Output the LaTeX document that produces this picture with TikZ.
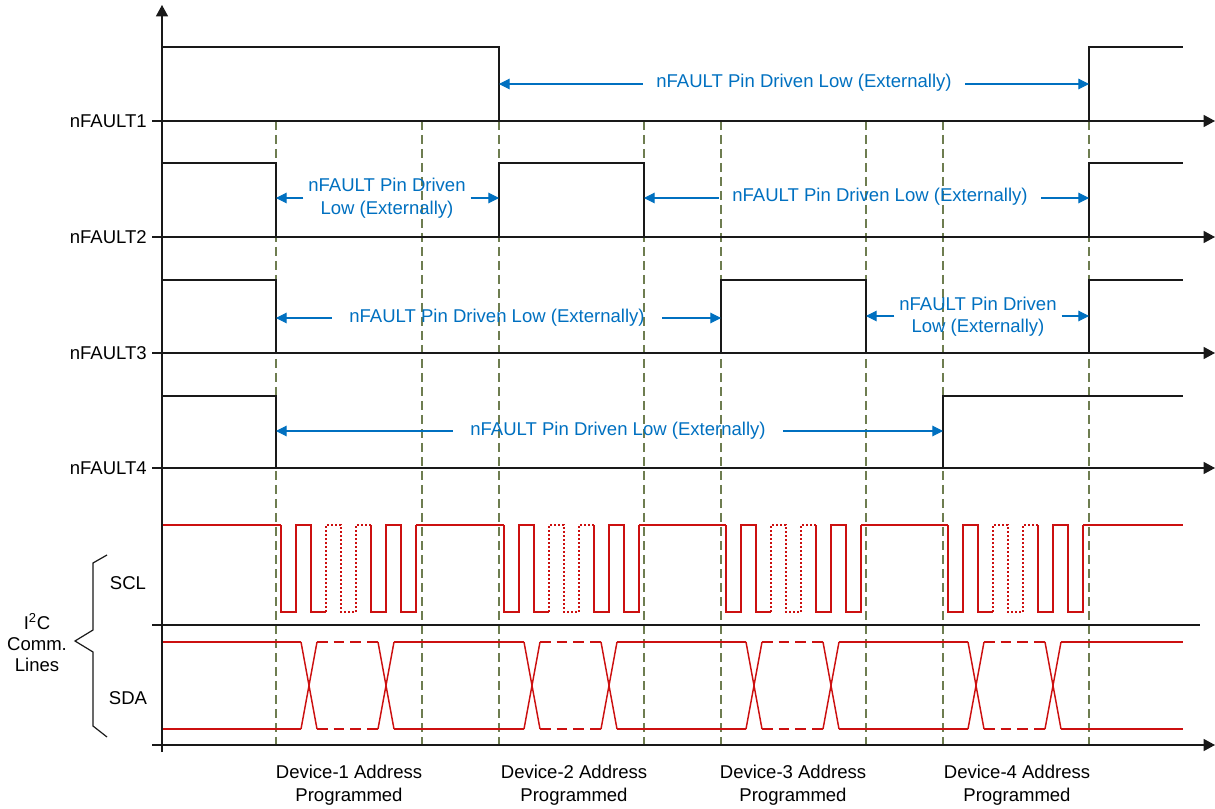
\documentclass[tikz,border=0pt]{standalone}
\usepackage{fontspec}
\setmainfont{Liberation Sans}
\usetikzlibrary{arrows.meta}
\definecolor{tiblue}{RGB}{0,112,192}
\definecolor{sigred}{RGB}{204,16,16}
\definecolor{guide}{RGB}{110,125,80}
\definecolor{axisc}{RGB}{25,25,25}
\begin{document}
\begin{tikzpicture}[x=0.75pt,y=-0.75pt,
  font=\fontsize{13.9}{16.9}\selectfont,
  axis/.style={line width=1pt, draw=axisc},
  axisarrow/.style={axis, -{Triangle[length=8.5pt,width=9pt]}},
  wave/.style={line width=1pt, draw=axisc, line join=miter},
  guideline/.style={draw=guide, line width=1pt, dash pattern=on 6.5pt off 4pt},
  sig/.style={draw=sigred, line width=1.1pt, line join=miter},
  sigdot/.style={sig, dash pattern=on 1.5pt off 1.5pt},
  sigdash/.style={sig, dash pattern=on 8pt off 4.5pt},
  note/.style={text=tiblue, inner sep=0pt, align=center},
  noteline/.style={draw=tiblue, line width=0.8pt, -{Triangle[length=8pt,width=8pt]}},
  lbl/.style={inner sep=0pt, anchor=east},
  plain/.style={inner sep=0pt, align=center},
  brace/.style={draw=axisc, line width=0.9pt, line join=miter},
]
\useasboundingbox (0,0) rectangle (1215,809);

% guide lines
\foreach \x in {276,422,499,644,721,866,943,1089}
  \draw[guideline] (\x,121) -- (\x,745);

% axes
\draw[axisarrow] (162,752) -- (162,5);
\foreach \y in {121,237,353,468,745}
  \draw[axisarrow] (152,\y) -- (1215,\y);
\draw[axis] (152,625) -- (1200,625);

% nFAULT waveforms
\draw[wave] (162,47) -- (499,47) -- (499,121);
\draw[wave] (1089,121) -- (1089,47) -- (1183,47);
\draw[wave] (162,163) -- (276,163) -- (276,237);
\draw[wave] (499,237) -- (499,163) -- (644,163) -- (644,237);
\draw[wave] (1089,237) -- (1089,163) -- (1183,163);
\draw[wave] (162,280) -- (276,280) -- (276,353);
\draw[wave] (721,353) -- (721,280) -- (866,280) -- (866,353);
\draw[wave] (1089,353) -- (1089,280) -- (1183,280);
\draw[wave] (162,396) -- (276,396) -- (276,468);
\draw[wave] (943,468) -- (943,396) -- (1183,396);

% SCL
\draw[sig] (163,525) -- (281,525);
\draw[sig] (416,525) -- (504,525);
\draw[sig] (639,525) -- (726,525);
\draw[sig] (861,525) -- (948,525);
\draw[sig] (1083,525) -- (1183,525);
\foreach \d in {276,499,721,943} {
  \draw[sig] ({\d+5},525) -- ({\d+5},612) -- ({\d+20},612) -- ({\d+20},525)
     -- ({\d+35},525) -- ({\d+35},612) -- ({\d+50},612);
  \draw[sigdot] ({\d+50},612) -- ({\d+50},525) -- ({\d+65},525) -- ({\d+65},612)
     -- ({\d+80},612) -- ({\d+80},525) -- ({\d+95},525);
  \draw[sig] ({\d+95},525) -- ({\d+95},612) -- ({\d+110},612) -- ({\d+110},525)
     -- ({\d+125},525) -- ({\d+125},612) -- ({\d+140},612) -- ({\d+140},525);
}

% SDA
\foreach \a/\b in {163/301,394/524,617/746,839/968,1061/1183} {
  \draw[sig] (\a,642) -- (\b,642);
  \draw[sig] (\a,729) -- (\b,729);
}
\foreach \d in {276,499,721,943} {
  \draw[sig] ({\d+25},642) -- ({\d+41},729);
  \draw[sig] ({\d+25},729) -- ({\d+41},642);
  \draw[sigdash] ({\d+41},642) -- ({\d+102},642);
  \draw[sigdash] ({\d+41},729) -- ({\d+102},729);
  \draw[sig] ({\d+102},642) -- ({\d+118},729);
  \draw[sig] ({\d+102},729) -- ({\d+118},642);
}

% brace
\draw[brace] (107,555) -- (93,563) -- (93,630) -- (75,641) -- (93,652) -- (93,726) -- (107,737);

% labels
\node[lbl] (lf1) at (147,121) {nFAULT1};
\node[lbl] (lf2) at (147,237) {nFAULT2};
\node[lbl] (lf3) at (147,353) {nFAULT3};
\node[lbl] (lf4) at (147,468) {nFAULT4};
\node[plain] (lscl) at (128,583) {SCL};
\node[plain] (lsda) at (128,698) {SDA};
\node[plain, font=\fontsize{13.9}{15.8}\selectfont] (li2c) at (37,643) {I\textsuperscript{2}C\\Comm.\\Lines};
\node[plain] (dev1) at (349,785) {Device-1 Address\\Programmed};
\node[plain] (dev2) at (574,785) {Device-2 Address\\Programmed};
\node[plain] (dev3) at (793,785) {Device-3 Address\\Programmed};
\node[plain] (dev4) at (1017,785) {Device-4 Address\\Programmed};

% notes with arrows
\coordinate (a1l) at (499,84);  \coordinate (a1r) at (1089,84);
\coordinate (a2l) at (276,198); \coordinate (a2r) at (499,198);
\coordinate (b2l) at (644,198); \coordinate (b2r) at (1089,198);
\coordinate (a3l) at (276,318); \coordinate (a3r) at (721,318);
\coordinate (b3l) at (866,316); \coordinate (b3r) at (1089,316);
\coordinate (a4l) at (276,431); \coordinate (a4r) at (943,431);

\node[note] (n1) at (804,83) {nFAULT Pin Driven Low (Externally)};
\draw[noteline] ([xshift=-10pt]n1.west|-a1l) -- (a1l);
\draw[noteline] ([xshift=10pt]n1.east|-a1r) -- (a1r);

\node[note] (n2a) at (387,198) {nFAULT Pin Driven\\Low (Externally)};
\draw[noteline] ([xshift=-3.5pt]n2a.west|-a2l) -- (a2l);
\draw[noteline] ([xshift=3.5pt]n2a.east|-a2r) -- (a2r);

\node[note] (n2b) at (880,197) {nFAULT Pin Driven Low (Externally)};
\draw[noteline] ([xshift=-10pt]n2b.west|-b2l) -- (b2l);
\draw[noteline] ([xshift=10pt]n2b.east|-b2r) -- (b2r);

\node[note] (n3a) at (497,318) {nFAULT Pin Driven Low (Externally)};
\draw[noteline] ([xshift=-13pt]n3a.west|-a3l) -- (a3l);
\draw[noteline] ([xshift=13pt]n3a.east|-a3r) -- (a3r);

\node[note] (n3b) at (978,316.5) {nFAULT Pin Driven\\Low (Externally)};
\draw[noteline] ([xshift=-3.5pt]n3b.west|-b3l) -- (b3l);
\draw[noteline] ([xshift=3.5pt]n3b.east|-b3r) -- (b3r);

\node[note] (n4) at (618,431) {nFAULT Pin Driven Low (Externally)};
\draw[noteline] ([xshift=-13pt]n4.west|-a4l) -- (a4l);
\draw[noteline] ([xshift=13pt]n4.east|-a4r) -- (a4r);
\end{tikzpicture}
\end{document}
